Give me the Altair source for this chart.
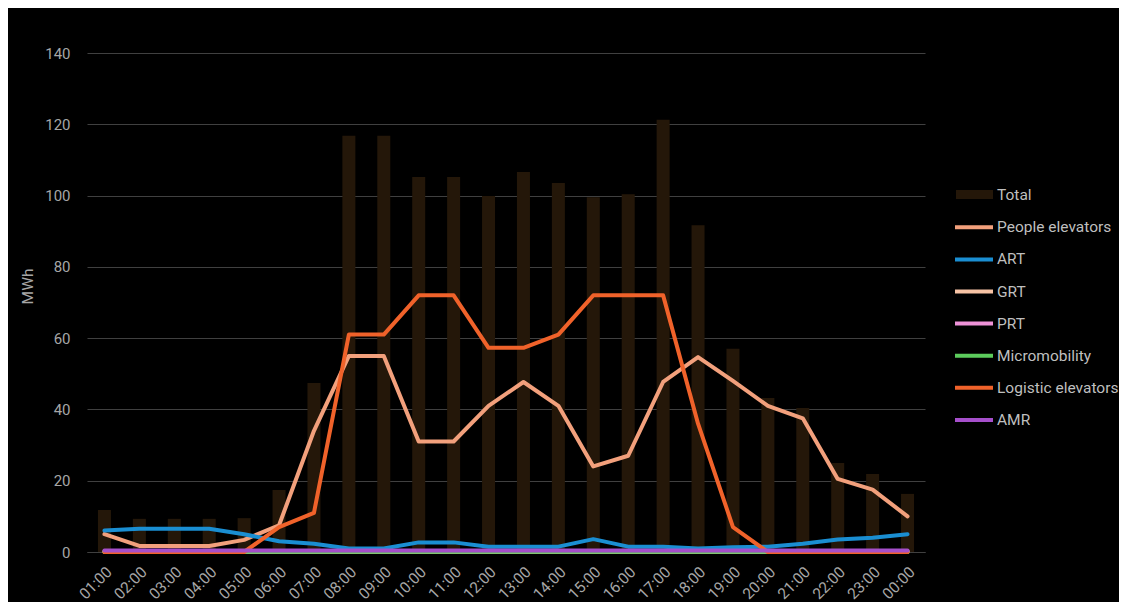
import altair as alt
import pandas as pd

hours = ["01:00", "02:00", "03:00", "04:00", "05:00", "06:00", "07:00", "08:00",
         "09:00", "10:00", "11:00", "12:00", "13:00", "14:00", "15:00", "16:00",
         "17:00", "18:00", "19:00", "20:00", "21:00", "22:00", "23:00", "00:00"]

total = [11.8, 9.3, 9.3, 9.3, 9.5, 17.4, 47.4, 116.8, 116.8, 105.2, 105.2, 99.9,
         106.6, 103.5, 99.5, 100.4, 121.3, 91.7, 57.0, 43.2, 40.4, 25.0, 21.9, 16.3]

people_elevators = [5.0, 1.7, 1.7, 1.7, 3.4, 7.5, 34.0, 55.0, 55.0, 31.0, 31.0, 41.0,
                    47.7, 41.0, 24.0, 27.0, 47.7, 54.7, 48.0, 41.0, 37.5, 20.5, 17.5, 10.0]
art = [6.0, 6.5, 6.5, 6.5, 5.0, 3.0, 2.3, 1.0, 1.0, 2.7, 2.7, 1.5,
       1.5, 1.5, 3.6, 1.5, 1.5, 1.0, 1.3, 1.5, 2.3, 3.5, 4.0, 5.0]
grt = [0.0] * 24
prt = [0.2] * 24
micromobility = [0.1] * 24
logistic_elevators = [0.0, 0.0, 0.0, 0.0, 0.0, 7.0, 11.0, 61.0, 61.0, 72.0, 72.0, 57.3,
                      57.3, 61.0, 72.0, 72.0, 72.0, 36.0, 7.0, 0.0, 0.0, 0.0, 0.0, 0.0]
amr = [0.4] * 24

series_names = ["People elevators", "ART", "GRT", "PRT", "Micromobility",
                "Logistic elevators", "AMR"]
series_values = [people_elevators, art, grt, prt, micromobility,
                 logistic_elevators, amr]
series_colors = ["#F2A07C", "#1A8ED2", "#F7C3A5", "#EE92D8", "#5CCB5C",
                 "#F0622A", "#A64FCB"]

bar_df = pd.DataFrame({"hour": hours, "value": total, "series": "Total"})
rows = []
for name, vals in zip(series_names, series_values):
    for h, v in zip(hours, vals):
        rows.append({"hour": h, "value": v, "series": name})
line_df = pd.DataFrame(rows)

FONT = "Roboto"

x_enc = alt.X(
    "hour:N", sort=hours, title=None,
    scale=alt.Scale(paddingInner=0.62, paddingOuter=0.31),
    axis=alt.Axis(labelAngle=-45, labelColor="#A6A6A6", labelFontSize=15.5,
                  labelFont=FONT, ticks=False, tickSize=0, labelPadding=12,
                  domain=True, domainColor="#404040", grid=False),
)
y_enc = alt.Y(
    "value:Q", title="MWh",
    scale=alt.Scale(domain=[0, 140], nice=False),
    axis=alt.Axis(values=[0, 20, 40, 60, 80, 100, 120, 140], labelColor="#A6A6A6",
                  labelFontSize=15, labelFont=FONT, ticks=False, tickSize=0,
                  labelPadding=17, domain=False, gridColor="#404040", gridWidth=1,
                  titleColor="#A6A6A6", titleFontSize=15.5, titleFont=FONT,
                  titleFontWeight="normal", titleAngle=270, titleX=-60, titleY=233,
                  titleAlign="center", titleBaseline="middle"),
)

bars = alt.Chart(bar_df).mark_bar(size=13).encode(
    x=x_enc,
    y=y_enc,
    fill=alt.Fill(
        "series:N",
        scale=alt.Scale(domain=["Total"], range=["#241709"]),
        legend=alt.Legend(
            title=None, orient="none", legendX=869, legendY=126.5,
            symbolType="M-1,-0.243H1V0.243H-1Z", symbolSize=1369,
            symbolStrokeWidth=0, clipHeight=30, rowPadding=2, padding=0,
            labelOffset=4, labelColor="#BFBFBF", labelFontSize=15.5, labelFont=FONT,
        ),
    ),
)

lines = alt.Chart(line_df).mark_line(
    strokeWidth=4, strokeJoin="round", strokeCap="round"
).encode(
    x=alt.X("hour:N", sort=hours),
    y=alt.Y("value:Q"),
    stroke=alt.Stroke(
        "series:N",
        scale=alt.Scale(domain=series_names, range=series_colors),
        sort=series_names,
        legend=alt.Legend(
            title=None, orient="none", legendX=866, legendY=159.3,
            symbolType="stroke", symbolSize=1444, symbolStrokeWidth=4,
            clipHeight=30, rowPadding=2.1, padding=0, labelOffset=2,
            labelColor="#BFBFBF", labelFontSize=15.5, labelFont=FONT,
        ),
    ),
    detail="series:N",
)

chart = alt.layer(bars, lines).resolve_scale(fill="independent", stroke="independent").properties(
    width=838, height=499,
    autosize=alt.AutoSizeParams(type="none"),
    padding={"left": 79, "top": 45, "right": 194, "bottom": 50},
    background="#000000",
).configure_view(stroke=None)

chart.save("out.html", embed_options={"renderer": "svg", "actions": False})
